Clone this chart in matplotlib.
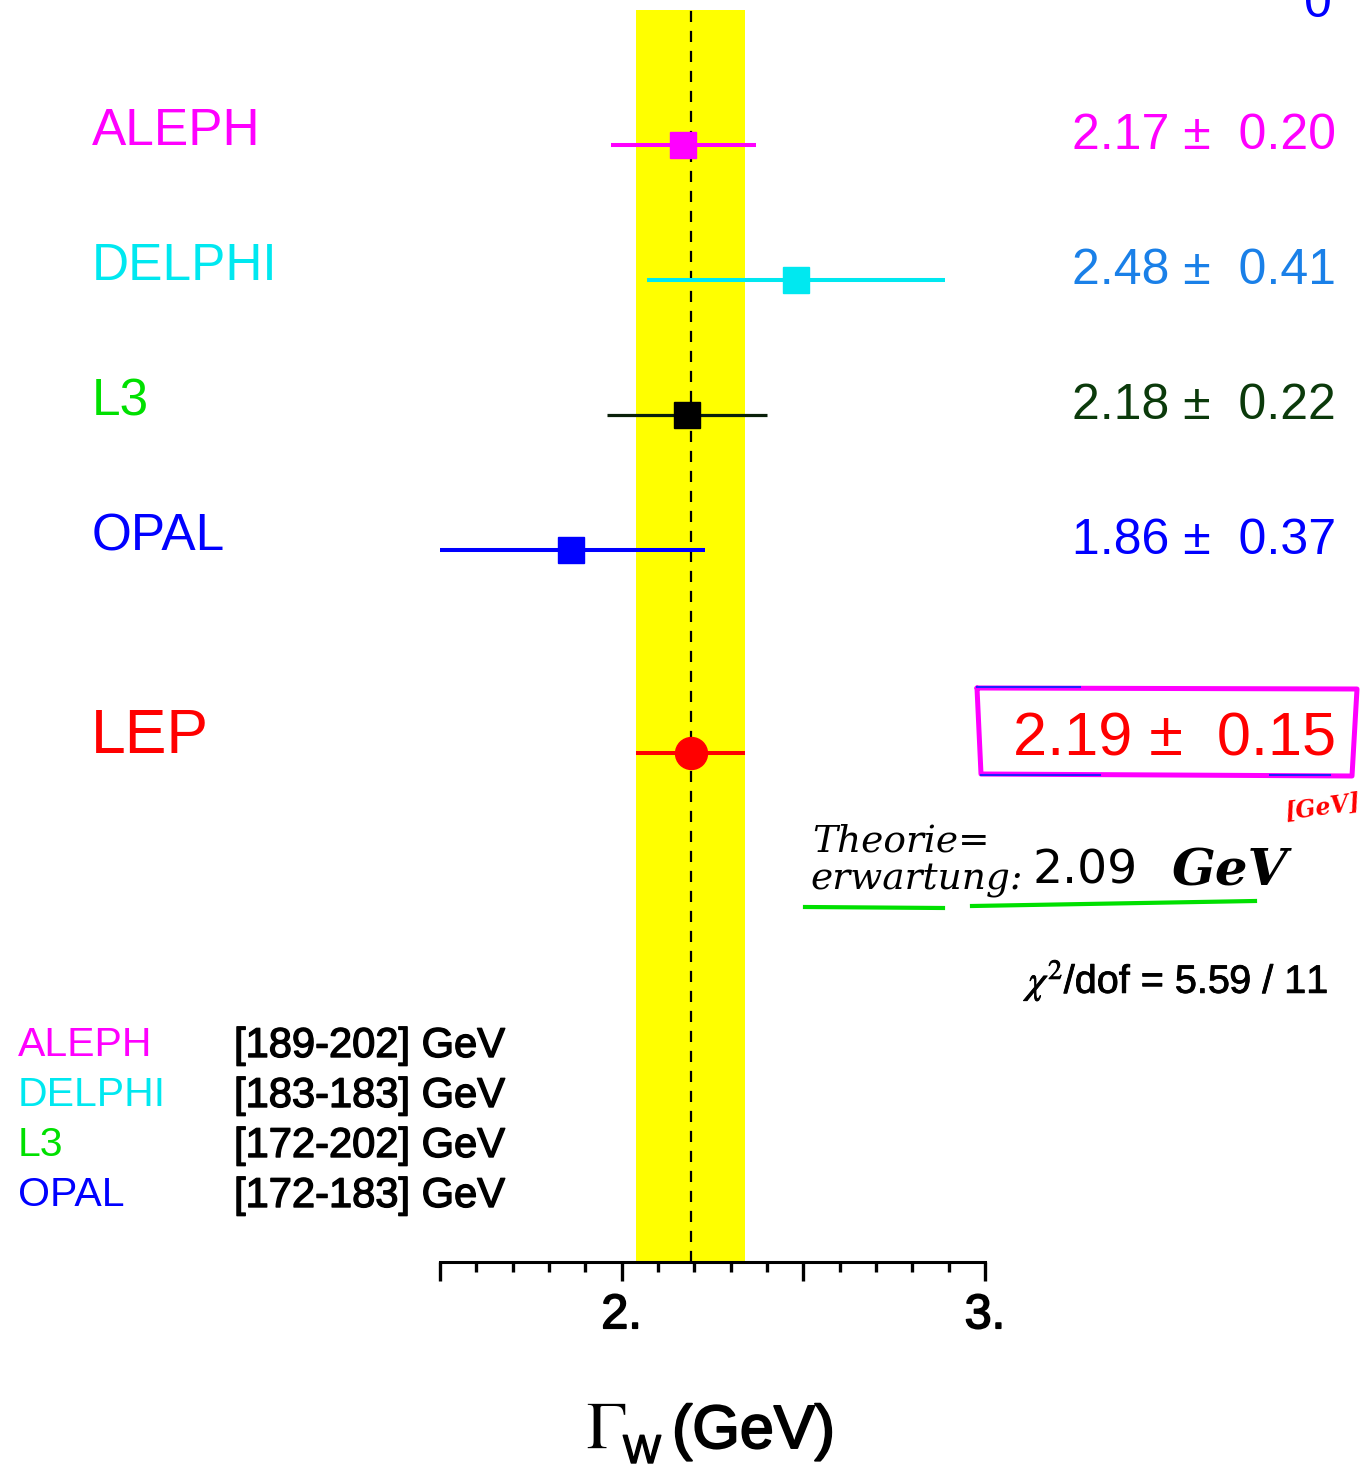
import matplotlib
matplotlib.use("Agg")
import matplotlib.pyplot as plt
import matplotlib.transforms as mtransforms
import matplotlib.patheffects as pe
from matplotlib.ticker import FixedLocator, FixedFormatter, MultipleLocator
from matplotlib.lines import Line2D

# ---- measurements of the W width ----
experiments = ["ALEPH", "DELPHI", "L3", "OPAL"]
widths = [2.17, 2.48, 2.18, 1.86]
errors = [0.20, 0.41, 0.22, 0.37]
energy_ranges = ["[189-202] GeV", "[183-183] GeV", "[172-202] GeV", "[172-183] GeV"]

lep_name = "LEP"
lep_value = 2.19
lep_error = 0.15
chi2 = 5.59
ndof = 11
theory_value = 2.09

tick_values = [1.5, 2.0, 2.5, 3.0]
tick_labels = ["", "2.", "", "3."]

# ---- styling ----
label_colors = ["#ff00ff", "#00e8f0", "#00e000", "#0000ff"]
value_colors = ["#ff00ff", "#1a80e8", "#0b3a0b", "#0000ff"]
marker_colors = ["#ff00ff", "#00e8f0", "#000000", "#0000ff"]
line_colors = ["#ff00ff", "#00e8f0", "#0a200a", "#0000ff"]
lep_color = "#ff0000"
band_color = "#ffff00"

SANS = "Liberation Sans"
plt.rcParams["font.family"] = [SANS, "DejaVu Sans"]
plt.rcParams["mathtext.fontset"] = "stix"

W, H = 1366, 1484
fig = plt.figure(figsize=(W / 100, H / 100), dpi=100)


def fx(x):
    return x / W


def fy(y):
    return 1 - y / H


ax = fig.add_axes([fx(440), fy(1262), fx(985) - fx(440), fy(10) - fy(1262)])
ax.set_xlim(1.5, 3.0)
ax.set_ylim(8.274, -1.0)  # rows run downward, one unit per row

rows = list(range(len(experiments)))
lep_row = 4.5

# combined value band and its central line
ax.axvspan(lep_value - lep_error, lep_value + lep_error, color=band_color, zorder=0, lw=0)
ax.axvline(lep_value, color="black", lw=1.6, ls=(0, (5, 4)), zorder=1)

# individual measurements
for r, v, e, lc, mc in zip(rows, widths, errors, line_colors, marker_colors):
    ax.errorbar(v, r, xerr=e, fmt="s", color=lc, mfc=mc, mec=mc, ms=18.5,
                elinewidth=2.9 if lc != "#0a200a" else 2.3, capsize=0, zorder=3)

ax.errorbar(lep_value, lep_row, xerr=lep_error, fmt="o", color=lep_color,
            ms=23, elinewidth=2.9, capsize=0, zorder=3)

# axis styling
for s in ("left", "right", "top"):
    ax.spines[s].set_visible(False)
ax.spines["bottom"].set_linewidth(2.2)
ax.set_yticks([])
ax.xaxis.set_major_locator(FixedLocator(tick_values))
ax.xaxis.set_major_formatter(FixedFormatter(tick_labels))
ax.xaxis.set_minor_locator(MultipleLocator(0.1))
ax.tick_params(axis="x", which="major", direction="out", length=13.5, width=2.4,
               labelsize=35, pad=9)
ax.tick_params(axis="x", which="minor", direction="out", length=7.5, width=2.4)
for t in ax.get_xticklabels():
    t.set_path_effects([pe.withStroke(linewidth=1.2, foreground="black")])

# labels and values beside each row
blend = mtransforms.blended_transform_factory(fig.transFigure, ax.transData)
for r, name, v, e, lcol, vcol in zip(rows, experiments, widths, errors, label_colors, value_colors):
    ax.text(fx(92), r, name, transform=blend, color=lcol, fontsize=37,
            ha="left", va="baseline")
    ax.text(fx(1336), r + 0.03, f"{v:.2f} \u00b1  {e:.2f}", transform=blend, color=vcol,
            fontsize=36, ha="right", va="baseline")

ax.text(fx(91), lep_row, lep_name, transform=blend, color=lep_color, fontsize=45,
        ha="left", va="baseline")
ax.text(fx(1336), lep_row + 0.02, f"{lep_value:.2f} \u00b1  {lep_error:.2f}", transform=blend,
        color=lep_color, fontsize=44, ha="right", va="baseline")

# partly hidden character at the top edge
fig.text(fx(1318), fy(17), "0", color="#0000ff", fontsize=36, ha="center", va="baseline")

# hand-drawn box round the combined value
box_x = [fx(977), fx(1357), fx(1352), fx(981), fx(977)]
box_y = [fy(688), fy(689), fy(776), fy(774), fy(688)]
fig.add_artist(Line2D(box_x, box_y, color="#ff00ff", lw=3.6, solid_capstyle="round"))
fig.add_artist(Line2D([fx(977), fx(1080)], [fy(687), fy(687)], color="#2020ff", lw=1.5))
fig.add_artist(Line2D([fx(981), fx(1100)], [fy(775), fy(775)], color="#2020ff", lw=1.5))
fig.add_artist(Line2D([fx(1270), fx(1330)], [fy(775), fy(775)], color="#2020ff", lw=1.5))
fig.text(fx(1322), fy(820), "[GeV]", color="#ff0000", fontsize=17, fontweight="bold",
         family="DejaVu Serif", style="italic", ha="center", va="baseline", rotation=8)

# theory note
hand = dict(family="DejaVu Serif", style="italic", color="black")
fig.text(fx(812), fy(852), "Theorie=", fontsize=27, ha="left", va="baseline", **hand)
fig.text(fx(810), fy(890), "erwartung:", fontsize=27, ha="left", va="baseline", **hand)
fig.text(fx(1033), fy(884), f"{theory_value:.2f}", fontsize=34, ha="left", va="baseline",
         family="DejaVu Sans", color="black")
fig.text(fx(1172), fy(886), "GeV", fontsize=37, ha="left", va="baseline",
         family="DejaVu Serif", style="italic", fontweight="bold", color="black")
fig.add_artist(Line2D([fx(805), fx(943)], [fy(907), fy(908)], color="#00e000", lw=3))
fig.add_artist(Line2D([fx(972), fx(1255)], [fy(906), fy(901)], color="#00e000", lw=3))

# fit quality
fig.text(fx(1333), fy(993), rf"$\chi^2$/dof = {chi2:.2f} / {ndof}", fontsize=28.5,
         ha="right", va="baseline", color="black",
         path_effects=[pe.withStroke(linewidth=0.6, foreground="black")])

# energy ranges used by each experiment
for i, (name, rng, col) in enumerate(zip(experiments, energy_ranges, label_colors)):
    yb = 1056 + 50 * i
    fig.text(fx(18), fy(yb), name, color=col, fontsize=29.5, ha="left", va="baseline")
    fig.text(fx(234), fy(yb + 1), rng, color="black", fontsize=30, ha="left", va="baseline",
             path_effects=[pe.withStroke(linewidth=1.0, foreground="black")])

# axis title
fig.text(fx(586), fy(1448), r"$\Gamma$", fontsize=48, ha="left", va="baseline", color="black")
fig.text(fx(623), fy(1463), "W", fontsize=29, ha="left", va="baseline", color="black",
         path_effects=[pe.withStroke(linewidth=1.0, foreground="black")])
fig.text(fx(672), fy(1448), "(GeV)", fontsize=44, ha="left", va="baseline", color="black",
         path_effects=[pe.withStroke(linewidth=1.4, foreground="black")])

fig.savefig("out.png", dpi=100, facecolor="white")
